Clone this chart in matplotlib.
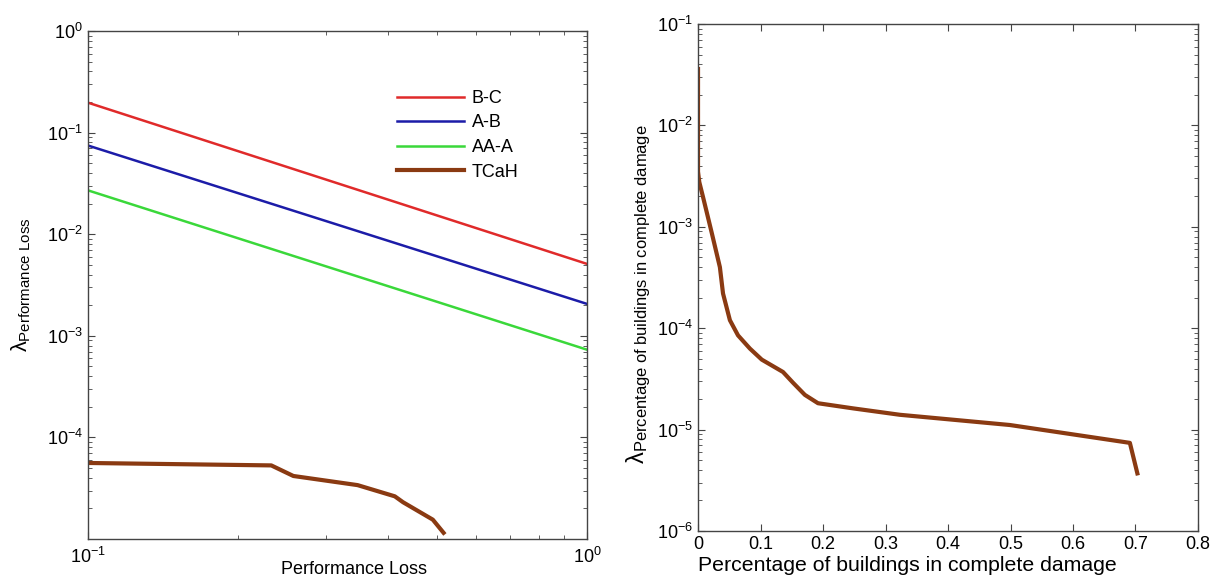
import numpy as np
import matplotlib
matplotlib.use("Agg")
import matplotlib.pyplot as plt
from matplotlib.ticker import LogLocator, NullFormatter, FuncFormatter

plt.rcParams['font.family'] = ['Liberation Sans', 'DejaVu Sans']
plt.rcParams['mathtext.fontset'] = 'custom'
plt.rcParams['mathtext.rm'] = 'Liberation Sans'
plt.rcParams['mathtext.it'] = 'Liberation Sans:italic'
plt.rcParams['mathtext.bf'] = 'Liberation Sans:bold'

# ---- Data: left panel ----
line_x = [0.1, 1.0]
bc_y = [0.197, 0.0051]
ab_y = [0.0746, 0.00206]
aaa_y = [0.027, 0.00073]
tcah_x = [0.1, 0.233, 0.258, 0.347, 0.412, 0.428, 0.491, 0.516]
tcah_y = [5.6e-5, 5.3e-5, 4.17e-5, 3.39e-5, 2.63e-5, 2.3e-5, 1.55e-5, 1.15e-5]
legend_labels = ['B-C', 'A-B', 'AA-A', 'TCaH']

# ---- Data: right panel ----
pct_x = [0.0, 0.0, 0.002, 0.008, 0.022, 0.035, 0.040, 0.051, 0.064, 0.083, 0.102,
         0.136, 0.152, 0.171, 0.192, 0.248, 0.323, 0.499, 0.691, 0.703]
pct_y = [0.036, 0.0035, 0.00277, 0.00197, 8.7e-4, 4.0e-4, 2.2e-4, 1.2e-4, 8.5e-5, 6.3e-5, 4.9e-5,
         3.7e-5, 2.9e-5, 2.2e-5, 1.82e-5, 1.62e-5, 1.4e-5, 1.11e-5, 7.4e-6, 3.7e-6]
right_xticks = [0, 0.1, 0.2, 0.3, 0.4, 0.5, 0.6, 0.7, 0.8]

red = '#e02a2a'
blue = '#1c1ca8'
green = '#3ad83a'
brown = '#8a3a12'

fig = plt.figure(figsize=(12.15, 5.79), dpi=100)
ax1 = fig.add_axes([0.0724, 0.0691, 0.4107, 0.8774])
ax2 = fig.add_axes([0.5745, 0.0829, 0.4115, 0.8756])

fs = 13

def style(ax):
    for s in ax.spines.values():
        s.set_color('#444444')
        s.set_linewidth(1.0)
    ax.tick_params(which='both', direction='in', top=True, right=True,
                   colors='#444444', labelcolor='black', labelsize=fs)
    ax.tick_params(which='major', length=5)
    ax.tick_params(which='minor', length=3)

# Left
ax1.plot(line_x, bc_y, color=red, lw=1.8, label=legend_labels[0])
ax1.plot(line_x, ab_y, color=blue, lw=1.8, label=legend_labels[1])
ax1.plot(line_x, aaa_y, color=green, lw=1.8, label=legend_labels[2])
ax1.plot(tcah_x, tcah_y, color=brown, lw=3, label=legend_labels[3])
ax1.set_xscale('log')
ax1.set_yscale('log')
ax1.set_xlim(0.1, 1)
ax1.set_ylim(1e-5, 1)
ax1.set_yticks([1e-4, 1e-3, 1e-2, 1e-1, 1])
ax1.yaxis.set_minor_locator(LogLocator(base=10, subs=np.arange(2, 10), numticks=20))
ax1.xaxis.set_minor_locator(LogLocator(base=10, subs=np.arange(2, 10), numticks=20))
ax1.xaxis.set_minor_formatter(NullFormatter())
ax1.yaxis.set_minor_formatter(NullFormatter())
style(ax1)
ax1.tick_params(axis='x', which='major', pad=6)
ax1.set_xlabel('Performance Loss', fontsize=fs)
ax1.xaxis.set_label_coords(0.533, -0.043)
ax1.set_ylabel(r'$\mathrm{λ}_{\mathrm{Performance\ Loss}}$', fontsize=15.5)
ax1.yaxis.set_label_coords(-0.11, 0.5)
ax1.legend(loc='upper left', bbox_to_anchor=(0.619, 0.884), frameon=False, fontsize=fs,
           handlelength=3.7, handletextpad=0.45, labelspacing=0.42, borderpad=0, borderaxespad=0)

# Right
ax2.plot(pct_x, pct_y, color=brown, lw=3)
ax2.set_yscale('log')
ax2.set_xlim(0, 0.8)
ax2.set_ylim(1e-6, 1e-1)
ax2.set_xticks(right_xticks)
ax2.xaxis.set_major_formatter(FuncFormatter(lambda v, p: f'{v:g}'))
ax2.yaxis.set_minor_locator(LogLocator(base=10, subs=np.arange(2, 10), numticks=20))
ax2.yaxis.set_minor_formatter(NullFormatter())
style(ax2)
ax2.set_xlabel('Percentage of buildings in complete damage', fontsize=15.3)
ax2.xaxis.set_label_coords(0.418, -0.05)
ax2.set_ylabel(r'$\mathrm{λ}_{\mathrm{Percentage\ of\ buildings\ in\ complete\ damage}}$', fontsize=17)
ax2.yaxis.set_label_coords(-0.09, 0.467)

fig.savefig('out.png', dpi=100)
